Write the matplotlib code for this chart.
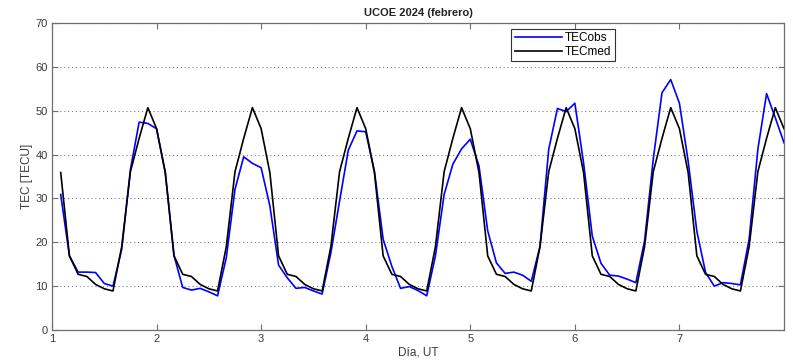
import numpy as np
import matplotlib
matplotlib.use("Agg")
import matplotlib.pyplot as plt

plt.rcParams['font.family'] = ['Liberation Sans', 'DejaVu Sans']

# Sample times: every 2 hours UT, from day 1 02:00 to day 8 00:00
hours_ut = np.arange(2, 7 * 24 + 1, 2)
dia = 1 + hours_ut / 24.0

tec_obs = [
    30.9, 16.9, 13.2, 13.2, 13.1, 10.6, 10.0, 18.4, 36.6, 47.4, 47.1, 45.9,
    35.9, 17.0, 9.7, 9.1, 9.5, 8.7, 7.8, 16.5, 32.1, 39.5, 38.0, 37.0,
    28.3, 14.8, 11.9, 9.5, 9.7, 8.9, 8.2, 17.6, 29.4, 41.0, 45.4, 45.2,
    36.2, 20.7, 14.5, 9.5, 9.9, 9.0, 7.8, 16.9, 30.9, 37.8, 41.3, 43.5,
    37.4, 22.6, 15.3, 12.9, 13.2, 12.5, 11.1, 19.1, 41.2, 50.5, 49.8, 51.7,
    38.1, 21.4, 15.2, 12.5, 12.3, 11.6, 10.8, 20.3, 39.0, 54.1, 57.1, 51.7,
    38.5, 22.5, 13.1, 10.0, 10.8, 10.6, 10.3, 20.7, 41.2, 53.9, 48.4, 42.7,
]

tec_med = [
    35.9, 16.9, 12.7, 12.2, 10.4, 9.4, 8.9, 19.0, 36.1, 43.7, 50.7, 45.9,
    35.9, 16.9, 12.7, 12.2, 10.4, 9.4, 8.9, 19.0, 36.1, 43.7, 50.7, 45.9,
    35.9, 16.9, 12.7, 12.2, 10.4, 9.4, 8.9, 19.0, 36.1, 43.7, 50.7, 45.9,
    35.9, 16.9, 12.7, 12.2, 10.4, 9.4, 8.9, 19.0, 36.1, 43.7, 50.7, 45.9,
    35.9, 16.9, 12.7, 12.2, 10.4, 9.4, 8.9, 19.0, 36.1, 43.7, 50.7, 45.9,
    35.9, 16.9, 12.7, 12.2, 10.4, 9.4, 8.9, 19.0, 36.1, 43.7, 50.7, 45.9,
    35.9, 16.9, 12.7, 12.2, 10.4, 9.4, 8.9, 19.0, 36.1, 43.7, 50.7, 45.9,
]

x_ticks = [1, 2, 3, 4, 5, 6, 7]
y_ticks = [0, 10, 20, 30, 40, 50, 60, 70]

fig = plt.figure(figsize=(7.93, 3.60), dpi=100)
ax = fig.add_axes([52 / 793, 30 / 360, 732 / 793, 307 / 360])

ax.plot(dia, tec_obs, color='#0000ff', lw=1.2, label='TECobs', zorder=3)
ax.plot(dia, tec_med, color='black', lw=1.2, label='TECmed', zorder=4)

ax.set_xlim(1, 8)
ax.set_ylim(0, 70)
ax.set_xticks(x_ticks)
ax.set_yticks(y_ticks)

spine_c = '#6e6e6e'
for s in ax.spines.values():
    s.set_color(spine_c)
    s.set_linewidth(0.9)
ax.tick_params(direction='in', length=4, width=0.8, color=spine_c,
               labelcolor='#3a3a3a', labelsize=8, top=True, right=True, pad=3)
ax.yaxis.grid(True, linestyle=(0, (1, 2.5)), color='#808080', lw=0.8)
ax.set_axisbelow(True)

ax.set_title('UCOE 2024 (febrero)', fontsize=8, fontweight='bold', color='#222222', pad=5)
ax.set_xlabel('Día, UT', fontsize=8.5, color='#3a3a3a', labelpad=2)
ax.set_ylabel('TEC [TECU]', fontsize=8.5, color='#3a3a3a', labelpad=2)

leg = ax.legend(loc='upper left', bbox_to_anchor=(0.627, 0.982), fontsize=8.5,
                handlelength=4.0, handletextpad=0.3, borderpad=0.3,
                labelspacing=0.15, fancybox=False, framealpha=1,
                edgecolor='#333333', borderaxespad=0)
leg.get_frame().set_linewidth(0.8)

fig.savefig('out.png', dpi=100, facecolor='white')
